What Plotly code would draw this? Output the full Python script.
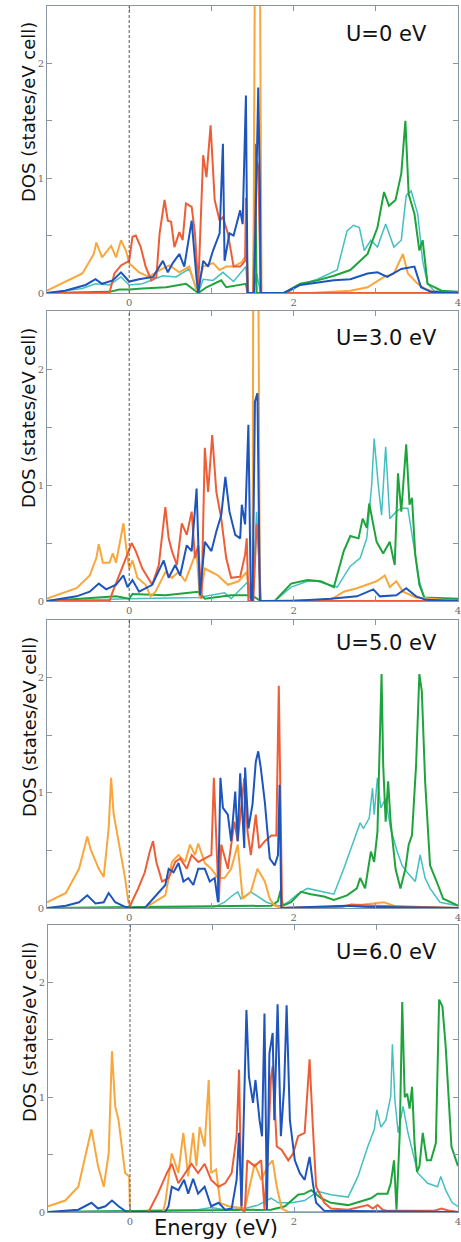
import plotly.graph_objects as go

# ---------------- data (energy in eV, DOS in states/eV cell) ----------------
panel_labels = ["U=0 eV", "U=3.0 eV", "U=5.0 eV", "U=6.0 eV"]
x_tickvals = [0, 1, 2, 3, 4]
x_ticktext = ["0", "", "2", "", "4"]
y_tickvals = [0, 0.5, 1, 1.5, 2]
y_ticktext = ["0", "", "1", "", "2"]
x_title = "Energy (eV)"
y_title = "DOS (states/eV cell)"

# ---- U = 0 ----
u0_orange_e = [-1.0, -0.57, -0.43, -0.40, -0.33, -0.22, -0.16, -0.10, -0.04, 0.0, 0.12, 0.24, 0.37, 0.49, 0.61, 0.73, 0.82, 0.90, 1.02, 1.10, 1.18, 1.27, 1.37, 1.43, 1.45, 1.51, 1.53, 1.59, 1.61, 2.2, 2.69, 2.90, 3.10, 3.22, 3.33, 3.39, 3.51, 3.59, 3.71, 4.0]
u0_orange_dos = [0.02, 0.17, 0.34, 0.44, 0.31, 0.41, 0.31, 0.46, 0.37, 0.26, 0.18, 0.14, 0.20, 0.24, 0.18, 0.23, 0.02, 0.23, 0.26, 0.20, 0.23, 0.23, 0.27, 0.34, 0.0, 0.0, 3.0, 3.0, 0.0, 0.0, 0.02, 0.05, 0.14, 0.17, 0.34, 0.17, 0.08, 0.04, 0.01, 0.0]
u0_red_e = [-1.0, -0.24, -0.18, -0.10, 0.0, 0.04, 0.08, 0.14, 0.20, 0.27, 0.33, 0.37, 0.43, 0.47, 0.51, 0.55, 0.61, 0.65, 0.69, 0.76, 0.80, 0.84, 0.90, 0.94, 0.99, 1.04, 1.10, 1.14, 1.20, 1.27, 1.35, 1.41, 1.42, 1.44, 1.51, 1.55, 1.57, 1.60, 4.0]
u0_red_dos = [0.0, 0.0, 0.17, 0.24, 0.28, 0.49, 0.50, 0.40, 0.23, 0.11, 0.14, 0.52, 0.81, 0.63, 0.62, 0.40, 0.53, 0.46, 0.78, 0.75, 0.52, 0.05, 1.20, 1.01, 1.46, 0.81, 0.63, 0.66, 0.52, 0.23, 0.23, 0.28, 0.83, 0.0, 0.0, 1.15, 1.10, 0.0, 0.0]
u0_blue_e = [-1.0, -0.78, -0.53, -0.41, -0.33, -0.20, -0.10, 0.0, 0.12, 0.29, 0.41, 0.47, 0.53, 0.61, 0.67, 0.76, 0.82, 0.84, 0.90, 0.96, 1.02, 1.10, 1.14, 1.16, 1.22, 1.27, 1.35, 1.38, 1.42, 1.44, 1.52, 1.55, 1.57, 1.59, 1.60, 1.88, 2.08, 2.49, 2.69, 2.90, 3.02, 3.14, 3.31, 3.47, 3.55, 3.67, 4.0]
u0_blue_dos = [0.0, 0.02, 0.07, 0.12, 0.08, 0.11, 0.18, 0.10, 0.12, 0.14, 0.28, 0.18, 0.26, 0.34, 0.23, 0.63, 0.12, 0.0, 0.28, 0.23, 0.37, 0.52, 1.30, 0.28, 0.52, 0.50, 0.72, 0.60, 1.72, 0.0, 0.0, 1.20, 1.79, 0.90, 0.0, 0.0, 0.07, 0.11, 0.12, 0.17, 0.18, 0.14, 0.21, 0.23, 0.05, 0.01, 0.0]
u0_cyan_e = [-1.0, -0.57, -0.41, -0.24, -0.10, 0.0, 0.16, 0.41, 0.57, 0.73, 0.84, 0.90, 1.02, 1.14, 1.27, 1.42, 1.44, 1.51, 1.55, 1.60, 1.92, 2.08, 2.29, 2.53, 2.65, 2.73, 2.80, 2.86, 2.94, 3.02, 3.12, 3.22, 3.31, 3.37, 3.43, 3.51, 3.57, 3.63, 3.71, 4.0]
u0_cyan_dos = [0.0, 0.04, 0.08, 0.07, 0.14, 0.07, 0.08, 0.15, 0.14, 0.21, 0.0, 0.12, 0.11, 0.18, 0.10, 0.23, 0.0, 0.0, 0.17, 0.0, 0.0, 0.07, 0.12, 0.20, 0.54, 0.59, 0.57, 0.37, 0.46, 0.40, 0.60, 0.40, 0.46, 0.85, 0.89, 0.69, 0.28, 0.08, 0.02, 0.0]
u0_green_e = [-1.0, -0.24, -0.12, 0.0, 0.16, 0.45, 0.69, 0.84, 0.94, 1.12, 1.18, 1.42, 1.44, 1.51, 1.53, 1.55, 1.88, 2.08, 2.29, 2.49, 2.69, 2.90, 3.02, 3.10, 3.16, 3.24, 3.31, 3.36, 3.40, 3.47, 3.53, 3.57, 3.63, 3.80, 4.0]
u0_green_dos = [0.0, 0.01, 0.03, 0.03, 0.04, 0.05, 0.08, 0.0, 0.05, 0.11, 0.05, 0.08, 0.0, 0.0, 1.30, 0.0, 0.0, 0.08, 0.11, 0.15, 0.20, 0.34, 0.57, 0.88, 0.76, 0.81, 1.04, 1.50, 0.86, 0.69, 0.37, 0.46, 0.08, 0.02, 0.01]

# ---- U = 3.0 ----
u3_orange_e = [-1.0, -0.64, -0.48, -0.40, -0.37, -0.32, -0.24, -0.20, -0.16, -0.10, -0.07, -0.04, 0.0, 0.04, 0.10, 0.20, 0.26, 0.32, 0.44, 0.52, 0.60, 0.68, 0.76, 0.82, 0.86, 0.92, 1.00, 1.08, 1.20, 1.33, 1.43, 1.47, 1.50, 1.51, 1.57, 1.59, 2.45, 2.61, 2.77, 2.89, 3.01, 3.11, 3.17, 3.25, 3.33, 3.49, 4.0]
u3_orange_dos = [0.02, 0.11, 0.22, 0.37, 0.49, 0.33, 0.33, 0.41, 0.33, 0.54, 0.67, 0.48, 0.28, 0.35, 0.20, 0.14, 0.04, 0.08, 0.25, 0.20, 0.25, 0.17, 0.31, 0.43, 0.02, 0.28, 0.25, 0.22, 0.14, 0.17, 0.25, 0.03, 0.0, 3.0, 3.0, 0.0, 0.01, 0.08, 0.11, 0.14, 0.17, 0.22, 0.12, 0.17, 0.08, 0.03, 0.0]
u3_red_e = [-1.0, -0.24, -0.20, -0.12, -0.04, 0.03, 0.08, 0.16, 0.28, 0.36, 0.40, 0.44, 0.48, 0.52, 0.58, 0.64, 0.70, 0.76, 0.80, 0.84, 0.88, 0.92, 0.96, 1.01, 1.06, 1.12, 1.18, 1.24, 1.35, 1.41, 1.43, 1.45, 1.51, 1.55, 1.57, 1.60, 4.0]
u3_red_dos = [0.0, 0.0, 0.08, 0.22, 0.37, 0.50, 0.43, 0.28, 0.14, 0.31, 0.54, 0.81, 0.54, 0.43, 0.31, 0.67, 0.57, 0.77, 0.37, 0.48, 0.02, 1.32, 0.94, 1.43, 0.94, 0.71, 0.37, 0.20, 0.21, 0.40, 0.54, 0.0, 0.0, 0.66, 0.54, 0.0, 0.0]
u3_blue_e = [-1.0, -0.64, -0.48, -0.37, -0.28, -0.16, -0.07, -0.02, 0.04, 0.12, 0.28, 0.42, 0.48, 0.56, 0.62, 0.70, 0.76, 0.82, 0.86, 0.92, 1.00, 1.06, 1.12, 1.17, 1.22, 1.29, 1.35, 1.37, 1.41, 1.45, 1.48, 1.50, 1.53, 1.56, 1.59, 1.97, 2.45, 2.77, 2.97, 3.05, 3.25, 3.37, 3.49, 3.61, 4.0]
u3_blue_dos = [0.0, 0.04, 0.08, 0.15, 0.10, 0.14, 0.22, 0.12, 0.18, 0.08, 0.14, 0.35, 0.20, 0.31, 0.22, 0.48, 0.43, 0.97, 0.05, 0.51, 0.43, 0.60, 0.74, 1.07, 0.77, 0.57, 0.54, 0.83, 0.66, 1.52, 0.02, 0.0, 1.72, 1.79, 0.0, 0.0, 0.02, 0.04, 0.10, 0.04, 0.05, 0.11, 0.04, 0.01, 0.0]
u3_cyan_e = [-1.0, 0.0, 0.84, 1.16, 1.24, 1.45, 1.48, 1.50, 1.55, 1.60, 1.77, 1.97, 2.17, 2.29, 2.53, 2.69, 2.81, 2.89, 2.95, 2.98, 3.03, 3.07, 3.12, 3.17, 3.25, 3.31, 3.39, 3.45, 3.53, 3.59, 4.0]
u3_cyan_dos = [0.0, 0.02, 0.03, 0.07, 0.02, 0.17, 0.0, 0.0, 0.77, 0.0, 0.0, 0.12, 0.17, 0.17, 0.12, 0.30, 0.37, 0.54, 1.00, 1.40, 1.00, 0.74, 1.33, 0.71, 0.77, 0.80, 0.80, 0.54, 0.17, 0.03, 0.01]
u3_green_e = [-1.0, -0.16, 0.0, 0.04, 0.44, 0.84, 0.92, 1.24, 1.49, 1.60, 1.77, 1.97, 2.17, 2.33, 2.49, 2.61, 2.69, 2.79, 2.84, 2.89, 2.92, 2.96, 3.01, 3.09, 3.17, 3.23, 3.27, 3.31, 3.37, 3.41, 3.44, 3.48, 3.53, 3.59, 4.0]
u3_green_dos = [0.0, 0.04, 0.02, 0.06, 0.05, 0.08, 0.02, 0.05, 0.05, 0.0, 0.0, 0.15, 0.18, 0.17, 0.12, 0.43, 0.56, 0.54, 0.71, 0.63, 0.84, 0.68, 0.51, 0.41, 0.51, 0.31, 1.10, 0.77, 1.35, 0.83, 0.89, 0.40, 0.14, 0.03, 0.02]

# ---- U = 5.0 ----
u5_orange_e = [-1.0, -0.77, -0.61, -0.51, -0.47, -0.37, -0.31, -0.25, -0.22, -0.19, -0.13, -0.05, -0.01, 0.03, 0.19, 0.44, 0.52, 0.60, 0.68, 0.74, 0.80, 0.84, 0.92, 1.00, 1.08, 1.16, 1.24, 1.32, 1.38, 1.48, 1.56, 1.65, 1.71, 1.77, 1.85, 2.45, 2.65, 2.85, 3.10, 3.26, 4.0]
u5_orange_dos = [0.05, 0.13, 0.34, 0.62, 0.51, 0.34, 0.27, 0.69, 1.13, 0.82, 0.58, 0.26, 0.05, 0.0, 0.0, 0.11, 0.40, 0.46, 0.40, 0.55, 0.46, 0.56, 0.39, 0.34, 0.26, 0.26, 0.34, 0.55, 0.08, 0.14, 0.34, 0.23, 0.08, 0.02, 0.0, 0.01, 0.02, 0.03, 0.05, 0.01, 0.0]
u5_red_e = [-1.0, 0.0, 0.03, 0.11, 0.19, 0.25, 0.29, 0.33, 0.40, 0.48, 0.56, 0.62, 0.70, 0.76, 0.84, 0.92, 1.00, 1.03, 1.06, 1.09, 1.12, 1.20, 1.28, 1.32, 1.40, 1.44, 1.48, 1.54, 1.58, 1.65, 1.73, 1.79, 1.82, 1.85, 1.86, 2.60, 2.70, 3.00, 3.40, 4.0]
u5_red_dos = [0.0, 0.0, 0.05, 0.17, 0.31, 0.49, 0.58, 0.40, 0.23, 0.26, 0.40, 0.43, 0.34, 0.46, 0.40, 0.43, 0.46, 1.13, 0.52, 0.05, 0.55, 0.34, 0.75, 0.58, 1.13, 0.66, 0.46, 0.81, 0.52, 0.58, 0.63, 0.63, 1.93, 0.52, 0.0, 0.01, 0.03, 0.02, 0.01, 0.0]
u5_blue_e = [-1.0, -0.77, -0.61, -0.51, -0.41, -0.31, -0.25, -0.17, -0.05, 0.03, 0.19, 0.31, 0.44, 0.48, 0.54, 0.60, 0.66, 0.72, 0.78, 0.84, 0.92, 0.98, 1.04, 1.08, 1.11, 1.14, 1.20, 1.24, 1.29, 1.32, 1.35, 1.40, 1.41, 1.45, 1.50, 1.54, 1.57, 1.60, 1.65, 1.71, 1.77, 1.81, 1.83, 1.85, 2.65, 2.85, 4.0]
u5_blue_dos = [0.0, 0.02, 0.05, 0.11, 0.04, 0.05, 0.13, 0.05, 0.01, 0.0, 0.0, 0.10, 0.20, 0.34, 0.31, 0.39, 0.23, 0.26, 0.20, 0.34, 0.34, 0.23, 0.26, 0.05, 1.13, 0.87, 0.81, 0.58, 1.01, 0.58, 1.17, 0.52, 1.22, 0.69, 0.90, 1.27, 1.36, 1.22, 0.92, 0.43, 0.37, 0.46, 1.07, 0.0, 0.02, 0.01, 0.0]
u5_cyan_e = [-1.0, 1.04, 1.16, 1.24, 1.32, 1.36, 1.48, 1.60, 1.67, 1.81, 1.86, 1.93, 2.05, 2.17, 2.37, 2.49, 2.61, 2.73, 2.81, 2.85, 2.92, 2.96, 2.98, 3.02, 3.06, 3.12, 3.18, 3.26, 3.32, 3.38, 3.48, 3.54, 3.60, 3.66, 3.78, 4.0]
u5_cyan_dos = [0.0, 0.01, 0.05, 0.10, 0.14, 0.08, 0.14, 0.08, 0.05, 0.02, 0.02, 0.05, 0.12, 0.17, 0.14, 0.12, 0.34, 0.58, 0.74, 0.69, 0.78, 1.04, 0.81, 1.13, 0.87, 0.95, 0.69, 0.49, 0.37, 0.31, 0.23, 0.46, 0.26, 0.17, 0.05, 0.02]
u5_green_e = [-1.0, 1.73, 1.81, 1.84, 1.87, 1.97, 2.09, 2.21, 2.37, 2.49, 2.65, 2.77, 2.81, 2.87, 2.94, 2.98, 3.02, 3.05, 3.07, 3.09, 3.12, 3.15, 3.18, 3.24, 3.30, 3.36, 3.40, 3.44, 3.49, 3.53, 3.56, 3.60, 3.66, 3.74, 3.82, 4.0]
u5_green_dos = [0.0, 0.02, 0.06, 0.15, 0.02, 0.05, 0.14, 0.12, 0.10, 0.07, 0.11, 0.17, 0.26, 0.17, 0.49, 0.40, 0.66, 1.39, 2.03, 1.24, 0.75, 1.10, 0.75, 0.34, 0.17, 0.34, 0.55, 0.63, 1.24, 2.03, 1.88, 1.10, 0.37, 0.23, 0.08, 0.02]

# ---- U = 6.0 ----
u6_orange_e = [-1.0, -0.79, -0.63, -0.53, -0.47, -0.39, -0.32, -0.26, -0.22, -0.18, -0.14, -0.06, -0.01, 0.0, 0.40, 0.43, 0.51, 0.59, 0.65, 0.71, 0.77, 0.81, 0.85, 0.91, 0.96, 0.99, 1.05, 1.10, 1.20, 1.40, 1.52, 1.60, 1.68, 1.74, 1.79, 1.85, 1.93, 4.0]
u6_orange_dos = [0.05, 0.10, 0.22, 0.54, 0.72, 0.40, 0.22, 0.51, 1.40, 0.92, 0.80, 0.34, 0.31, 0.0, 0.0, 0.08, 0.51, 0.34, 0.69, 0.31, 0.69, 0.40, 0.74, 0.57, 1.15, 0.34, 0.37, 0.08, 0.05, 0.03, 0.42, 0.28, 0.40, 0.45, 0.22, 0.03, 0.0, 0.0]
u6_red_e = [-1.0, 0.20, 0.24, 0.34, 0.45, 0.51, 0.59, 0.67, 0.75, 0.83, 0.91, 0.99, 1.08, 1.16, 1.24, 1.30, 1.33, 1.36, 1.40, 1.43, 1.52, 1.60, 1.64, 1.68, 1.72, 1.74, 1.79, 1.85, 1.93, 1.99, 2.05, 2.13, 2.19, 2.23, 2.27, 2.37, 2.45, 2.66, 2.90, 2.96, 3.02, 3.08, 3.14, 3.70, 3.80, 3.90, 4.0]
u6_red_dos = [0.0, 0.0, 0.02, 0.16, 0.34, 0.42, 0.25, 0.34, 0.42, 0.34, 0.42, 0.28, 0.22, 0.25, 0.34, 0.66, 1.24, 0.02, 0.0, 0.45, 0.40, 0.45, 0.02, 0.51, 1.18, 1.27, 0.57, 0.54, 0.45, 0.51, 0.66, 0.69, 1.33, 0.74, 0.22, 0.08, 0.03, 0.02, 0.06, 0.03, 0.06, 0.02, 0.01, 0.01, 0.03, 0.01, 0.0]
u6_blue_e = [-1.0, -0.63, -0.47, -0.39, -0.30, -0.22, -0.14, -0.04, 0.0, 0.43, 0.47, 0.51, 0.59, 0.66, 0.71, 0.77, 0.83, 0.91, 0.99, 1.08, 1.16, 1.24, 1.30, 1.33, 1.36, 1.42, 1.45, 1.50, 1.53, 1.58, 1.61, 1.64, 1.67, 1.70, 1.74, 1.76, 1.80, 1.84, 1.88, 1.91, 1.95, 2.01, 2.07, 2.13, 2.19, 2.23, 2.27, 2.37, 4.0]
u6_blue_dos = [0.0, 0.02, 0.08, 0.03, 0.05, 0.10, 0.05, 0.0, 0.0, 0.0, 0.05, 0.22, 0.19, 0.28, 0.16, 0.29, 0.16, 0.22, 0.05, 0.08, 0.02, 0.03, 0.28, 0.69, 0.05, 1.76, 1.18, 0.95, 1.15, 0.80, 0.66, 1.73, 0.02, 1.38, 1.56, 0.80, 1.81, 0.66, 1.09, 1.80, 0.80, 0.45, 0.34, 0.28, 0.48, 0.25, 0.08, 0.01, 0.0]
u6_cyan_e = [-1.0, 0.83, 0.99, 1.16, 1.40, 1.56, 1.72, 1.81, 1.97, 2.13, 2.29, 2.45, 2.66, 2.78, 2.90, 2.98, 3.01, 3.06, 3.12, 3.18, 3.20, 3.23, 3.27, 3.33, 3.39, 3.51, 3.63, 3.75, 3.79, 3.85, 3.93, 4.0]
u6_cyan_dos = [0.0, 0.02, 0.04, 0.02, 0.03, 0.06, 0.12, 0.08, 0.08, 0.10, 0.18, 0.15, 0.13, 0.31, 0.57, 0.72, 0.89, 0.74, 0.80, 1.01, 1.46, 0.98, 0.69, 0.92, 0.69, 0.34, 0.25, 0.22, 0.31, 0.19, 0.08, 0.05]
u6_green_e = [-1.0, 1.72, 1.89, 2.05, 2.13, 2.21, 2.33, 2.45, 2.66, 2.86, 2.94, 3.02, 3.14, 3.18, 3.22, 3.25, 3.29, 3.32, 3.35, 3.38, 3.41, 3.44, 3.47, 3.50, 3.53, 3.57, 3.62, 3.67, 3.73, 3.77, 3.81, 3.85, 3.92, 4.0]
u6_green_dos = [0.0, 0.02, 0.05, 0.15, 0.16, 0.19, 0.12, 0.08, 0.06, 0.10, 0.12, 0.16, 0.16, 0.25, 0.45, 0.02, 0.69, 1.83, 1.00, 1.03, 0.90, 1.09, 0.60, 0.35, 0.40, 0.69, 0.45, 0.45, 0.60, 1.85, 1.79, 1.44, 0.57, 0.40]

panels = [
    {"cyan": (u0_cyan_e, u0_cyan_dos), "green": (u0_green_e, u0_green_dos), "orange": (u0_orange_e, u0_orange_dos),
     "red": (u0_red_e, u0_red_dos), "blue": (u0_blue_e, u0_blue_dos)},
    {"cyan": (u3_cyan_e, u3_cyan_dos), "green": (u3_green_e, u3_green_dos), "orange": (u3_orange_e, u3_orange_dos),
     "red": (u3_red_e, u3_red_dos), "blue": (u3_blue_e, u3_blue_dos)},
    {"cyan": (u5_cyan_e, u5_cyan_dos), "green": (u5_green_e, u5_green_dos), "orange": (u5_orange_e, u5_orange_dos),
     "red": (u5_red_e, u5_red_dos), "blue": (u5_blue_e, u5_blue_dos)},
    {"cyan": (u6_cyan_e, u6_cyan_dos), "green": (u6_green_e, u6_green_dos), "orange": (u6_orange_e, u6_orange_dos),
     "red": (u6_red_e, u6_red_dos), "blue": (u6_blue_e, u6_blue_dos)},
]

# ---------------- styling ----------------
W, H = 461, 1242
colors = {"cyan": "#45BFC0", "green": "#1FA33D", "orange": "#F9A73C", "red": "#EE5E36", "blue": "#1D55BD"}
widths = {"cyan": 1.5, "green": 2.0, "orange": 2.0, "red": 2.0, "blue": 2.0}
frame_col = "#8895A3"

# panel pixel boxes (left, top, right, bottom)
boxes = [(47, 6, 458, 293), (47, 311, 458, 601), (47, 620, 458, 908), (48, 925, 458, 1212)]
label_pos = [(386, 34), (386, 338), (386, 643), (386, 952)]
ytitle_pos = [(29, 112), (29, 418), (29, 727), (29, 1032)]

fig = go.Figure()
layout = dict(
    width=W, height=H, template="none",
    margin=dict(l=0, r=0, t=0, b=0),
    paper_bgcolor="white", plot_bgcolor="white",
    showlegend=False,
)
shapes = []
annotations = []

for i, (panel, box) in enumerate(zip(panels, boxes)):
    n = "" if i == 0 else str(i + 1)
    xa, ya = "x" + n, "y" + n
    for key in ["cyan", "green", "orange", "red", "blue"]:
        e, d = panel[key]
        fig.add_trace(go.Scatter(x=e, y=d, mode="lines", xaxis=xa, yaxis=ya,
                                 line=dict(color=colors[key], width=widths[key]),
                                 hoverinfo="skip"))
    l, t, r, b = box
    common = dict(showline=True, linecolor=frame_col, linewidth=1, mirror="ticks",
                  ticks="inside", ticklen=5, tickcolor=frame_col, tickwidth=1,
                  showgrid=False, zeroline=False, automargin=False,
                  ticklabeloverflow="allow",
                  tickfont=dict(family="DejaVu Serif", size=10, color="#6a6a6a"))
    layout["xaxis" + n] = dict(domain=[l / W, r / W], range=[-1, 4.0], anchor=ya,
                               tickmode="array", tickvals=x_tickvals, ticktext=x_ticktext, **common)
    layout["yaxis" + n] = dict(domain=[1 - b / H, 1 - t / H], range=[0, 2.5], anchor=xa,
                               tickmode="array", tickvals=y_tickvals, ticktext=y_ticktext, **common)
    shapes.append(dict(type="line", xref=xa, yref=ya + " domain", x0=0, x1=0, y0=0, y1=1,
                       line=dict(color="#555555", width=1, dash="3px,2px")))
    lx, ly = label_pos[i]
    annotations.append(dict(text=panel_labels[i], xref="paper", yref="paper", x=lx / W, y=1 - ly / H,
                            xanchor="center", yanchor="middle", showarrow=False,
                            font=dict(family="DejaVu Sans", size=21, color="#111111")))
    tx, ty = ytitle_pos[i]
    annotations.append(dict(text=y_title, xref="paper", yref="paper", x=tx / W, y=1 - ty / H,
                            xanchor="center", yanchor="middle", showarrow=False, textangle=-90,
                            font=dict(family="DejaVu Sans", size=18, color="#111111")))

annotations.append(dict(text=x_title, xref="paper", yref="paper", x=216 / W, y=1 - 1228 / H,
                        xanchor="center", yanchor="middle", showarrow=False,
                        font=dict(family="DejaVu Sans", size=21, color="#111111")))

layout["shapes"] = shapes
layout["annotations"] = annotations
fig.update_layout(**layout)
fig.write_html("out.html", config={"displayModeBar": False},
               post_script="document.body.style.margin='0';document.body.style.padding='0';"
                           "document.body.style.overflow='hidden';")
